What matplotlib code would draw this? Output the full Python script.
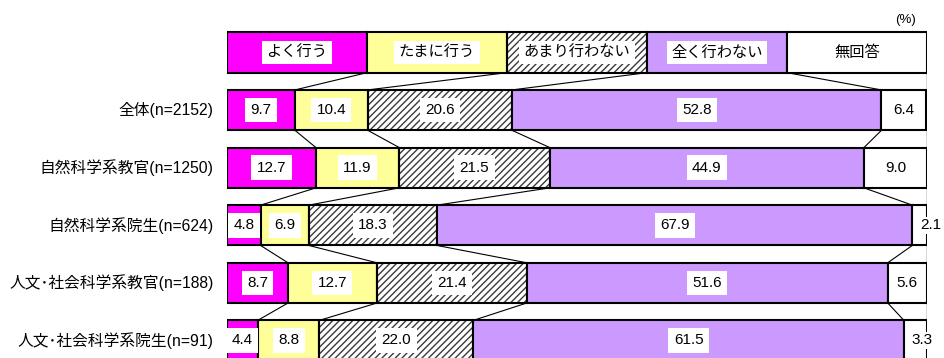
import matplotlib
matplotlib.use("Agg")
import matplotlib.pyplot as plt
import numpy as np

plt.rcParams['font.family'] = ['Liberation Sans', 'Noto Sans CJK JP', 'DejaVu Sans']
plt.rcParams['hatch.linewidth'] = 1.0

categories = ['全体(n=2152)', '自然科学系教官(n=1250)', '自然科学系院生(n=624)',
              '人文･社会科学系教官(n=188)', '人文･社会科学系院生(n=91)']
series_names = ['よく行う', 'たまに行う', 'あまり行わない', '全く行わない', '無回答']
yoku = [9.7, 12.7, 4.8, 8.7, 4.4]
tamani = [10.4, 11.9, 6.9, 12.7, 8.8]
amari = [20.6, 21.5, 18.3, 21.4, 22.0]
mattaku = [52.8, 44.9, 67.9, 51.6, 61.5]
mukaitou = [6.4, 9.0, 2.1, 5.6, 3.3]

colors = ['#FF00FF', '#FFFF99', '#FFFFFF', '#CC99FF', '#FFFFFF']
hatches = [None, None, '/////', None, None]

data = np.array([yoku, tamani, amari, mattaku, mukaitou])  # series x rows
nrows = len(categories)

W, H = 945, 358
fig = plt.figure(figsize=(W / 100, H / 100), dpi=100)
x0, x1 = 227, 927
ax = fig.add_axes([x0 / W, 0, (x1 - x0) / W, 1])
# row centres: legend at 0, rows at 1..5
c0, pitch = 52.5, 57.6
ax.set_ylim((H - c0) / pitch, -c0 / pitch)
ax.set_xlim(0, 100)
ax.axis('off')

bh = 0.70
lw = 1.5


def draw_segment(y, left, width, color, hatch):
    if hatch:
        ax.barh(y, width, left=left, height=bh, color=color, edgecolor='#3a3a3a',
                hatch=hatch, linewidth=0, zorder=2)
        ax.barh(y, width, left=left, height=bh, fill=False, edgecolor='black',
                linewidth=lw, zorder=3)
    else:
        ax.barh(y, width, left=left, height=bh, color=color, edgecolor='black',
                linewidth=lw, zorder=3)


# legend row
for j, name in enumerate(series_names):
    draw_segment(0, j * 20, 20, colors[j], hatches[j])
    ax.text(j * 20 + 10, 0, name, ha='center', va='center', fontsize=11, zorder=5,
            bbox=dict(boxstyle='square,pad=0.3', fc='white', ec='none'))

# data rows
for i in range(nrows):
    y = i + 1
    left = 0
    for j in range(len(series_names)):
        v = data[j, i]
        draw_segment(y, left, v, colors[j], hatches[j])
        if j == len(series_names) - 1 and v < 4:
            ax.text(left + 1.1, y, f'{v:.1f}', ha='left', va='center', fontsize=11,
                    zorder=6, clip_on=False,
                    bbox=dict(boxstyle='square,pad=0.1', fc='white', ec='none'))
        else:
            ax.text(left + v / 2, y, f'{v:.1f}', ha='center', va='center', fontsize=11,
                    zorder=6,
                    bbox=dict(boxstyle='square,pad=0.35', fc='white', ec='none'))
        left += v
    ax.text(-1.9, y, categories[i], ha='right', va='center', fontsize=11.3,
            clip_on=False)

# series lines
cums = np.cumsum(data, axis=0)
for k in range(4):
    ax.plot([(k + 1) * 20, cums[k, 0]], [bh / 2, 1 - bh / 2], color='black',
            lw=0.8, zorder=1)
for i in range(nrows - 1):
    for k in range(4):
        ax.plot([cums[k, i], cums[k, i + 1]], [i + 1 + bh / 2, i + 2 - bh / 2],
                color='black', lw=0.8, zorder=1)

# right frame line
ax.plot([100, 100], [-bh / 2, nrows + 1], color='#333333', lw=1.0, zorder=1)

fig.text(906 / W, 1 - 20 / H, '(%)', ha='center', va='center', fontsize=9.5)

fig.savefig('out.png', dpi=100)
